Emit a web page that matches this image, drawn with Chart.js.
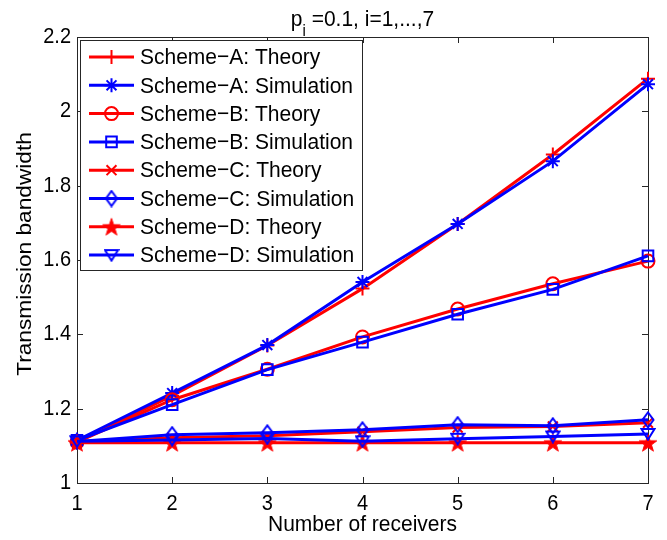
<!DOCTYPE html>
<html>
<head>
<meta charset="utf-8">
<script src="https://cdn.jsdelivr.net/npm/chart.js@4.4.0/dist/chart.umd.min.js"></script>
<style>
html, body { margin: 0; padding: 0; background: #fff; }
canvas { display: block; }
</style>
</head>
<body>
<canvas id="chart" width="667" height="540"></canvas>
<script>
// values
const receivers = [1, 2, 3, 4, 5, 6, 7];
const xTicks = [1, 2, 3, 4, 5, 6, 7];
const yTicks = [1, 1.2, 1.4, 1.6, 1.8, 2, 2.2];
const yTickLabels = ['1', '1.2', '1.4', '1.6', '1.8', '2', '2.2'];

const aTheory = [1.110, 1.235, 1.370, 1.523, 1.697, 1.884, 2.088];
const aSim    = [1.115, 1.242, 1.371, 1.541, 1.697, 1.866, 2.073];
const bTheory = [1.110, 1.224, 1.306, 1.393, 1.468, 1.536, 1.597];
const bSim    = [1.115, 1.211, 1.305, 1.379, 1.454, 1.521, 1.611];
const cTheory = [1.110, 1.122, 1.127, 1.138, 1.149, 1.152, 1.162];
const cSim    = [1.112, 1.130, 1.135, 1.143, 1.157, 1.154, 1.170];
const dTheory = [1.108, 1.108, 1.108, 1.108, 1.108, 1.108, 1.108];
const dSim    = [1.112, 1.116, 1.120, 1.112, 1.119, 1.125, 1.132];

const RED = '#ff0000';
const BLUE = '#0000ff';
const FONT = '21px "Liberation Sans", Arial, sans-serif';
const TICK_FONT = '20px "Liberation Sans", Arial, sans-serif';
const STRETCH = 1.08; // picture is a bit taller than wide

// marker images that Chart.js has no built-in style for
function diamond(color) {
    const c = document.createElement('canvas');
    c.width = 14; c.height = 18;
    const g = c.getContext('2d');
    g.strokeStyle = color; g.lineWidth = 2;
    g.beginPath();
    g.moveTo(7, 1.5); g.lineTo(12.5, 9); g.lineTo(7, 16.5); g.lineTo(1.5, 9);
    g.closePath(); g.stroke();
    return c;
}
function pentagram(color) {
    const c = document.createElement('canvas');
    c.width = 20; c.height = 20;
    const g = c.getContext('2d');
    g.fillStyle = color; g.strokeStyle = color; g.lineWidth = 1;
    g.beginPath();
    for (let i = 0; i < 10; i++) {
        const r = i % 2 ? 3.6 : 9.2;
        const a = -Math.PI / 2 + i * Math.PI / 5;
        const px = 10 + r * Math.cos(a), py = 10.8 + r * Math.sin(a);
        i ? g.lineTo(px, py) : g.moveTo(px, py);
    }
    g.closePath(); g.fill(); g.stroke();
    return c;
}
function triDown(color) {
    const c = document.createElement('canvas');
    c.width = 16; c.height = 14;
    const g = c.getContext('2d');
    g.strokeStyle = color; g.lineWidth = 2;
    g.beginPath();
    g.moveTo(1.5, 2); g.lineTo(14.5, 2); g.lineTo(8, 12.5);
    g.closePath(); g.stroke();
    return c;
}

const series = [
    {label: 'Scheme\u2212A: Theory',     data: aTheory, color: RED,  style: 'cross',    r: 7},
    {label: 'Scheme\u2212A: Simulation', data: aSim,    color: BLUE, style: 'star',     r: 7},
    {label: 'Scheme\u2212B: Theory',     data: bTheory, color: RED,  style: 'circle',   r: 6.5},
    {label: 'Scheme\u2212B: Simulation', data: bSim,    color: BLUE, style: 'rect',     r: 7.5},
    {label: 'Scheme\u2212C: Theory',     data: cTheory, color: RED,  style: 'crossRot', r: 7},
    {label: 'Scheme\u2212C: Simulation', data: cSim,    color: BLUE, style: diamond(BLUE), r: 7},
    {label: 'Scheme\u2212D: Theory',     data: dTheory, color: RED,  style: pentagram(RED), r: 9},
    {label: 'Scheme\u2212D: Simulation', data: dSim,    color: BLUE, style: triDown(BLUE), r: 7}
];

function text(ctx, s, x, y, align, base) {
    ctx.save();
    ctx.translate(x, y);
    ctx.scale(1, STRETCH);
    ctx.textAlign = align;
    ctx.textBaseline = base;
    ctx.fillText(s, 0, 0);
    ctx.restore();
}

// axes box, inward ticks, labels, title
const axesPlugin = {
    id: 'axesBox',
    beforeDatasetsDraw(chart) {
        const ctx = chart.ctx, a = chart.chartArea;
        const xs = chart.scales.x, ys = chart.scales.y;
        ctx.save();
        ctx.strokeStyle = '#262626';
        ctx.lineWidth = 1;
        ctx.strokeRect(a.left + 0.5, a.top + 0.5, a.right - a.left, a.bottom - a.top);
        ctx.beginPath();
        xTicks.forEach(v => {
            const px = Math.round(xs.getPixelForValue(v)) + 0.5;
            ctx.moveTo(px, a.bottom); ctx.lineTo(px, a.bottom - 6);
            ctx.moveTo(px, a.top); ctx.lineTo(px, a.top + 6);
        });
        yTicks.forEach(v => {
            const py = Math.round(ys.getPixelForValue(v)) + 0.5;
            ctx.moveTo(a.left, py); ctx.lineTo(a.left + 6, py);
            ctx.moveTo(a.right, py); ctx.lineTo(a.right - 6, py);
        });
        ctx.stroke();

        ctx.fillStyle = '#000';
        ctx.font = TICK_FONT;
        xTicks.forEach(v => text(ctx, String(v), xs.getPixelForValue(v), a.bottom + 10, 'center', 'top'));
        yTicks.forEach((v, i) => text(ctx, yTickLabels[i], a.left - 6, ys.getPixelForValue(v), 'right', 'middle'));

        const cx = (a.left + a.right) / 2;
        ctx.font = FONT;
        text(ctx, 'Number of receivers', cx, a.bottom + 42, 'center', 'middle');

        ctx.save();
        ctx.translate(25, (a.top + a.bottom) / 2 - 6);
        ctx.rotate(-Math.PI / 2);
        ctx.scale(STRETCH, 1);
        ctx.textAlign = 'center';
        ctx.textBaseline = 'middle';
        ctx.fillText('Transmission bandwidth', 0, 0);
        ctx.restore();

        // title: p_i =0.1, i=1,...,7
        const subFont = '15px "Liberation Sans", Arial, sans-serif';
        const rest = ' =0.1, i=1,...,7';
        ctx.font = FONT;
        const wp = ctx.measureText('p').width, wr = ctx.measureText(rest).width;
        ctx.font = subFont;
        const wi = ctx.measureText('i').width;
        let x0 = cx - (wp + wi + wr) / 2;
        ctx.font = FONT;
        text(ctx, 'p', x0, 20, 'left', 'middle');
        ctx.font = subFont;
        text(ctx, 'i', x0 + wp, 32, 'left', 'middle');
        ctx.font = FONT;
        text(ctx, rest, x0 + wp + wi, 20, 'left', 'middle');
        ctx.restore();
    },
    afterDraw(chart) {
        const ctx = chart.ctx;
        const bx = 80.5, by = 40.5, bw = 282, bh = 230;
        ctx.save();
        ctx.fillStyle = '#fff';
        ctx.fillRect(bx, by, bw, bh);
        ctx.strokeStyle = '#262626';
        ctx.lineWidth = 1;
        ctx.strokeRect(bx, by, bw, bh);
        series.forEach((s, i) => {
            const y = 57 + i * 28.3;
            ctx.strokeStyle = s.color;
            ctx.lineWidth = 3;
            ctx.beginPath();
            ctx.moveTo(89, y); ctx.lineTo(134, y);
            ctx.stroke();
            ctx.fillStyle = 'rgba(0,0,0,0)';
            ctx.lineWidth = 2;
            Chart.helpers.drawPoint(ctx, {pointStyle: s.style, radius: s.r, rotation: 0, borderWidth: 2}, 111.5, y);
            ctx.fillStyle = '#000';
            ctx.font = FONT;
            text(ctx, s.label, 140, y + 1, 'left', 'middle');
        });
        ctx.restore();
    }
};

new Chart(document.getElementById('chart'), {
    type: 'line',
    data: {
        labels: receivers,
        datasets: series.map((s, i) => ({
            label: s.label,
            data: receivers.map((x, j) => ({x: x, y: s.data[j]})),
            borderColor: s.color,
            backgroundColor: s.color,
            borderWidth: 3,
            pointStyle: s.style,
            pointRadius: s.r,
            pointBorderWidth: 2,
            pointBorderColor: s.color,
            pointBackgroundColor: 'rgba(0,0,0,0)',
            tension: 0,
            fill: false,
            clip: false,
            order: series.length - i
        }))
    },
    options: {
        responsive: false,
        animation: false,
        layout: {padding: {left: 77, right: 19, top: 37, bottom: 57}},
        plugins: {legend: {display: false}, tooltip: {enabled: false}},
        scales: {
            x: {type: 'linear', min: 1, max: 7, display: false},
            y: {type: 'linear', min: 1, max: 2.2, display: false}
        }
    },
    plugins: [axesPlugin]
});
</script>
</body>
</html>
